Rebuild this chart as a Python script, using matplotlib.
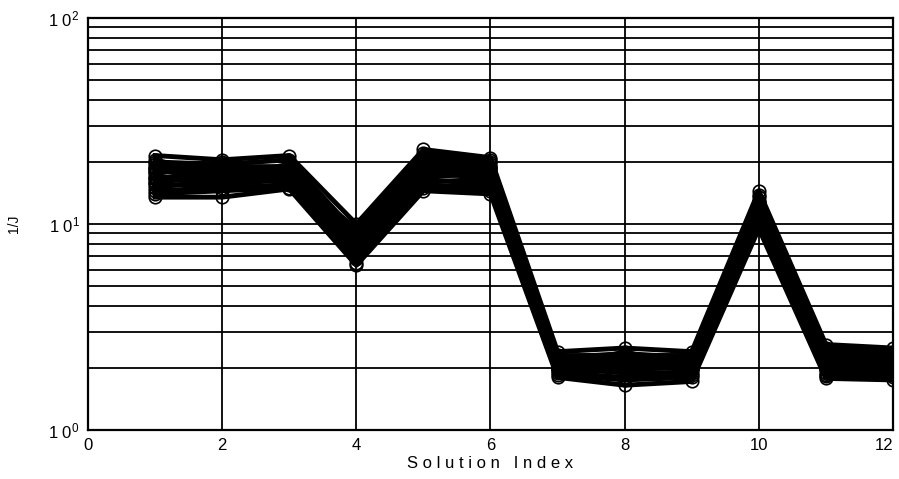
import numpy as np
import matplotlib.pyplot as plt
from matplotlib.ticker import LogLocator, NullFormatter

idx = np.arange(1, 13)

# objective 1/J for each run, per solution index
runs = [
    [21.5, 20.5, 21.5, 10.0, 23.0, 21.0, 2.4, 2.5, 2.4, 14.5, 2.6, 2.5],
    [13.5, 13.5, 14.8, 6.3, 14.5, 14.0, 1.8, 1.65, 1.72, 9.5, 1.78, 1.75],
    [20.0, 19.5, 20.5, 9.0, 21.5, 20.0, 2.3, 2.3, 2.3, 13.5, 2.4, 2.3],
    [14.5, 15.0, 15.5, 6.8, 15.5, 15.0, 1.9, 1.8, 1.85, 10.0, 1.85, 1.85],
    [16.0, 17.0, 16.5, 7.2, 17.0, 17.5, 2.0, 2.0, 2.0, 11.0, 2.0, 1.95],
    [18.5, 18.0, 18.0, 8.0, 19.5, 18.5, 2.15, 2.2, 2.2, 12.5, 2.2, 2.15],
    [17.0, 16.0, 17.5, 7.5, 18.0, 19.0, 2.1, 2.05, 2.15, 12.0, 2.05, 2.0],
    [19.0, 19.0, 19.0, 8.5, 20.0, 19.5, 2.2, 2.15, 2.1, 13.0, 2.15, 2.1],
    [15.0, 16.5, 16.0, 7.0, 16.0, 16.5, 1.95, 1.95, 2.05, 10.5, 1.95, 2.05],
    [16.5, 18.5, 17.0, 7.8, 17.5, 17.0, 2.05, 2.1, 1.95, 11.5, 2.1, 2.2],
    [20.5, 17.0, 19.5, 8.8, 22.0, 20.5, 2.25, 2.35, 2.25, 13.8, 2.5, 2.4],
    [14.0, 14.5, 15.0, 6.5, 15.0, 14.5, 1.85, 1.75, 1.8, 9.8, 1.82, 1.8],
    [18.0, 17.5, 18.5, 8.2, 18.5, 18.0, 2.1, 2.25, 2.3, 12.2, 2.3, 2.25],
    [17.5, 20.0, 17.5, 9.5, 21.0, 19.0, 2.0, 2.4, 2.0, 12.8, 2.0, 1.9],
    [15.5, 15.5, 16.5, 7.3, 16.5, 15.5, 1.98, 1.9, 1.9, 10.8, 1.9, 1.9],
    [16.8, 16.8, 17.8, 7.6, 18.8, 16.0, 2.08, 2.12, 2.08, 11.8, 2.12, 2.1],
    [17.8, 19.2, 16.8, 8.4, 17.8, 17.8, 2.18, 2.0, 2.12, 12.4, 2.25, 2.0],
    [18.8, 16.5, 18.8, 7.9, 16.8, 18.8, 2.03, 2.28, 2.02, 11.2, 1.98, 2.15],
    [15.8, 18.0, 15.8, 8.6, 20.5, 16.8, 2.12, 1.88, 2.18, 12.0, 2.08, 2.05],
    [19.5, 15.8, 17.2, 7.1, 19.0, 17.2, 1.94, 2.18, 1.98, 12.6, 2.18, 1.98],
]

xticks = [0, 2, 4, 6, 8, 10, 12]
yticks = [1, 10, 100]
ytick_labels = ['1 0$^{0}$', '1 0$^{1}$', '1 0$^{2}$']

plt.rcParams['font.family'] = ['Liberation Sans', 'DejaVu Sans']
plt.rcParams['mathtext.default'] = 'regular'

fig = plt.figure(figsize=(8.99, 4.79), dpi=100)
ax = fig.add_axes([0.0979, 0.1023, 0.8954, 0.8601])

for r in runs:
    ax.plot(idx, r, '-o', color='black', lw=3.5, ms=9, mfc='none', mew=1.2)

ax.set_yscale('log')
ax.set_xlim(0, 12)
ax.set_ylim(1, 100)
ax.set_xticks(xticks)
ax.set_yticks(yticks)
ax.set_yticklabels(ytick_labels)
ax.yaxis.set_minor_locator(LogLocator(base=10, subs=np.arange(2, 10)))
ax.yaxis.set_minor_formatter(NullFormatter())
ax.grid(True, which='both', color='black', lw=1.3)
ax.set_axisbelow(True)
ax.tick_params(which='both', length=0, labelsize=12, pad=6)
ax.get_xticklabels()[-1].set_horizontalalignment('right')
for s in ax.spines.values():
    s.set_linewidth(1.6)

ax.set_xlabel('S o l u t i o n   I n d e x', fontsize=12, labelpad=2)
ax.set_ylabel('1/J', fontsize=10, labelpad=20)

plt.savefig('out.png', dpi=100)
